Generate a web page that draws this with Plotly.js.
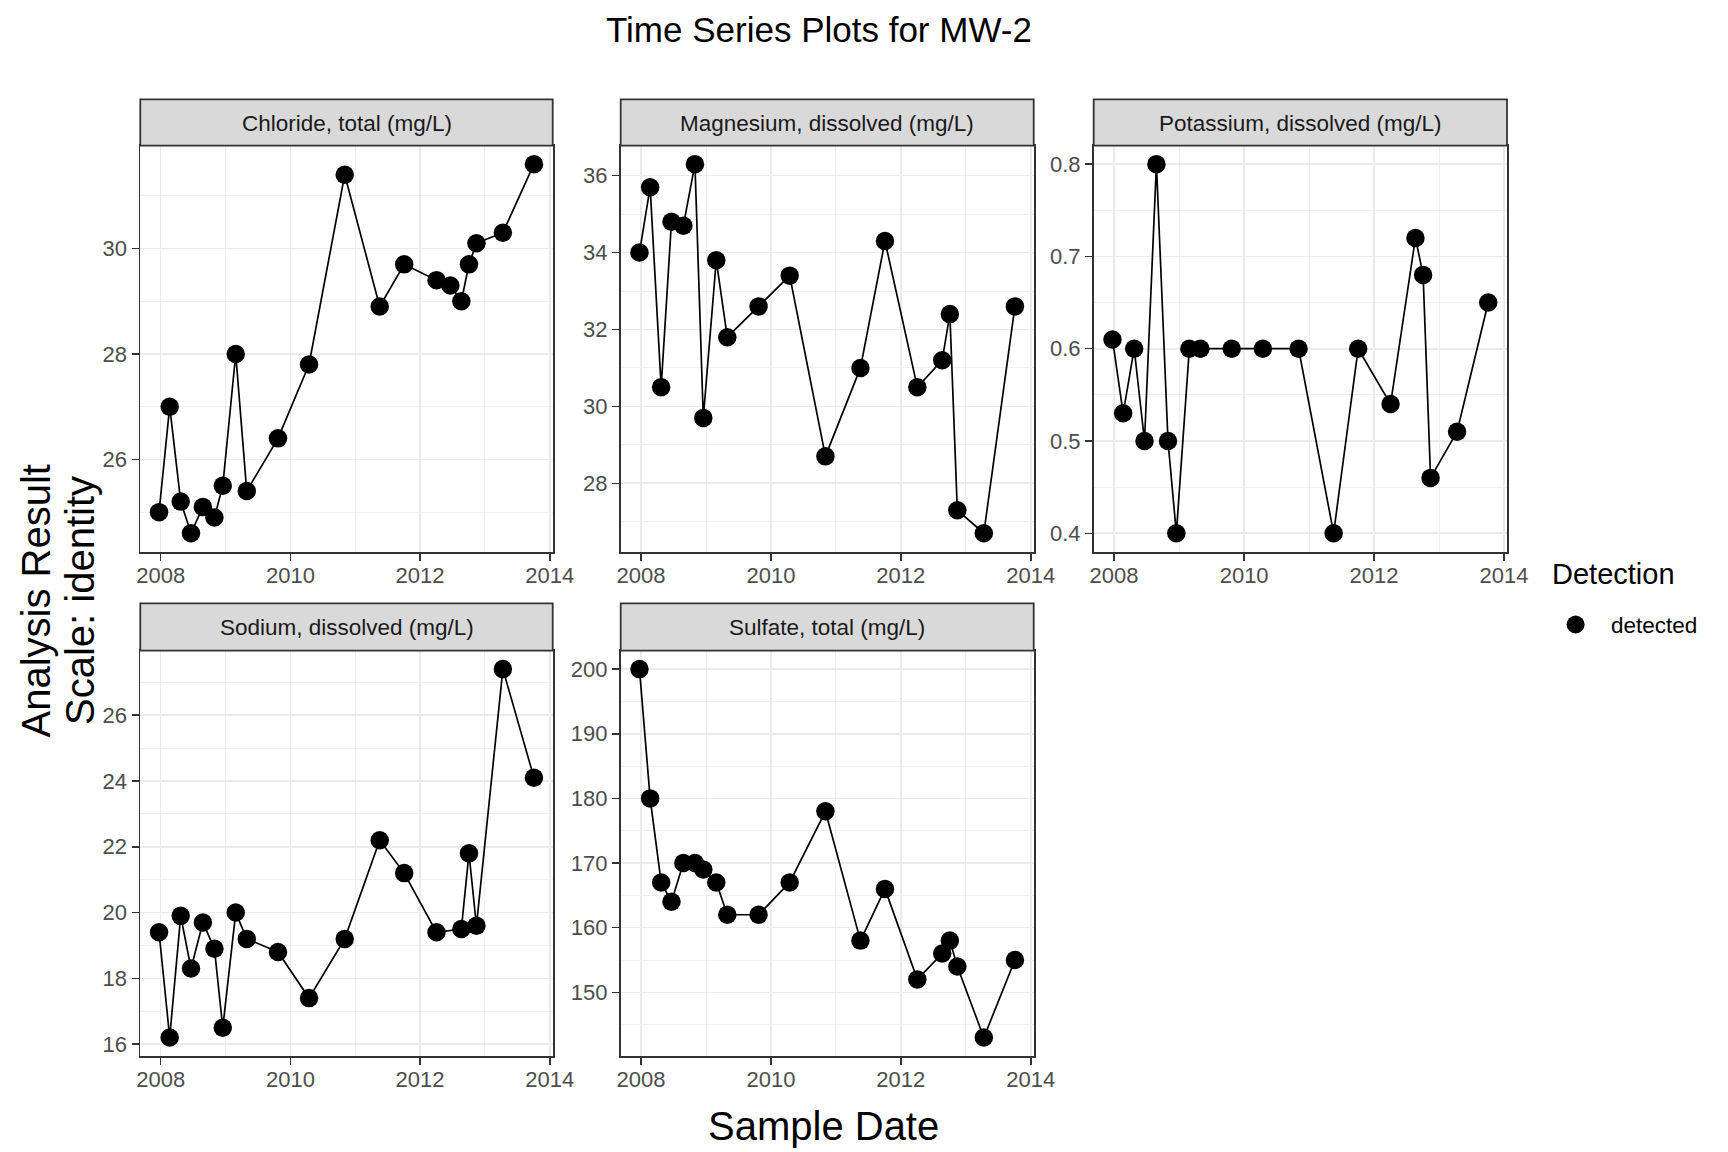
<!DOCTYPE html>
<html>
<head>
<meta charset="utf-8">
<script src="https://cdn.plot.ly/plotly-3.0.1.min.js"></script>
<style>html,body{margin:0;padding:0;background:#fff;}</style>
</head>
<body>
<div id="chart" style="width:1728px;height:1152px;"></div>
<script>
// ---------------- data ----------------
const sampleDates = ["2007-12-23","2008-02-21","2008-04-23","2008-06-20","2008-08-26","2008-10-30","2008-12-16",
  "2009-02-27","2009-04-30","2009-10-23","2010-04-16","2010-11-03","2011-05-19","2011-10-04",
  "2012-04-03","2012-06-20","2012-08-21","2012-10-03","2012-11-14","2013-04-12","2013-10-04"];
const chloride  = [25.0,27.0,25.2,24.6,25.1,24.9,25.5,28.0,25.4,26.4,27.8,31.4,28.9,29.7,29.4,29.3,29.0,29.7,30.1,30.3,31.6];
const magnesium = [34.0,35.7,30.5,34.8,34.7,36.3,29.7,33.8,31.8,32.6,33.4,28.7,31.0,34.3,30.5,null,31.2,32.4,27.3,26.7,32.6];
const potassium = [0.61,0.53,0.60,0.50,0.80,0.50,0.40,0.60,0.60,0.60,0.60,0.60,0.40,0.60,0.54,null,0.72,0.68,0.46,0.51,0.65];
const sodium    = [19.4,16.2,19.9,18.3,19.7,18.9,16.5,20.0,19.2,18.8,17.4,19.2,22.2,21.2,19.4,null,19.5,21.8,19.6,27.4,24.1];
const sulfate   = [200,180,167,164,170,170,169,167,162,162,167,178,158,166,152,null,156,158,154,143,155];
const panelTitles = ["Chloride, total (mg/L)","Magnesium, dissolved (mg/L)","Potassium, dissolved (mg/L)",
  "Sodium, dissolved (mg/L)","Sulfate, total (mg/L)"];
const yTickSteps = [2, 2, 0.1, 2, 10];
const chartTitle = "Time Series Plots for MW-2";
const xTitle = "Sample Date";
const yTitleLines = ["Analysis Result", "Scale: identity"];
const legendTitle = "Detection";
const legendLabel = "detected";

const series = [chloride, magnesium, potassium, sodium, sulfate];

// ---------------- layout geometry (pixels) ----------------
const W = 1728, H = 1152;
const cols = [[140.3, 552.7], [620.7, 1033.7], [1093.7, 1507.0]];
const rows = [{strip:[99.3,145.7], panel:[145.7,551.7]}, {strip:[603.3,650.7], panel:[650.7,1056.0]}];
const cells = [[0,0],[0,1],[0,2],[1,0],[1,1]]; // [row, col]
const fx = p => p / W;
const fy = p => 1 - p / H;
const FONT = "Liberation Sans, Arial, sans-serif";

// x range: ggplot-style 5% expansion
const ms = sampleDates.map(d => new Date(d + "T00:00:00Z").getTime());
const xmin = Math.min(...ms), xmax = Math.max(...ms);
const xpad = (xmax - xmin) * 0.05;
const iso = t => new Date(t).toISOString().slice(0,19).replace("T"," ");
const xRange = [iso(xmin - xpad), iso(xmax + xpad)];

const traces = [];
const layout = {
  width: W, height: H,
  margin: {l:0, r:0, t:0, b:0},
  paper_bgcolor: "#ffffff", plot_bgcolor: "#ffffff",
  showlegend: false,
  font: {family: FONT, color: "#000"},
  shapes: [], annotations: []
};

series.forEach((vals, i) => {
  const [r, c] = cells[i];
  const sfx = i === 0 ? "" : String(i + 1);
  traces.push({
    type: "scatter", mode: "lines+markers",
    x: sampleDates, y: vals, connectgaps: true,
    xaxis: "x" + sfx, yaxis: "y" + sfx,
    line: {color: "#000000", width: 1.7},
    marker: {color: "#000000", size: 18.5},
    name: legendLabel, showlegend: false
  });
  const good = vals.filter(v => v !== null);
  const vmin = Math.min(...good), vmax = Math.max(...good);
  const pad = (vmax - vmin) * 0.05;
  const step = yTickSteps[i];
  const axisCommon = {
    ticks: "outside", ticklen: 7, tickwidth: 1.5, tickcolor: "#333333",
    showline: true, mirror: true, linecolor: "#333333", linewidth: 1.8,
    showgrid: true, gridcolor: "#EBEBEB", gridwidth: 1.6,
    zeroline: false, fixedrange: true,
    tickfont: {family: FONT, size: 22, color: "#4D4D4D"}
  };
  layout["xaxis" + sfx] = Object.assign({}, axisCommon, {
    type: "date", range: xRange, tick0: "2008-01-01", dtick: "M24", tickformat: "%Y",
    ticklabelstandoff: -4,
    minor: {dtick: "M12", showgrid: true, gridcolor: "#EBEBEB", gridwidth: 0.8, ticks: ""},
    domain: [fx(cols[c][0]), fx(cols[c][1])],
    anchor: "y" + sfx
  });
  layout["yaxis" + sfx] = Object.assign({}, axisCommon, {
    range: [vmin - pad, vmax + pad], tick0: 0, dtick: step,
    minor: {dtick: step / 2, showgrid: true, gridcolor: "#EBEBEB", gridwidth: 0.8, ticks: ""},
    domain: [fy(rows[r].panel[1]), fy(rows[r].panel[0])],
    anchor: "x" + sfx
  });
  // strip
  layout.shapes.push({
    type: "rect", xref: "paper", yref: "paper",
    x0: fx(cols[c][0]), x1: fx(cols[c][1]),
    y0: fy(rows[r].strip[1]), y1: fy(rows[r].strip[0]),
    fillcolor: "#D9D9D9", line: {color: "#333333", width: 1.8}
  });
  layout.annotations.push({
    xref: "paper", yref: "paper", showarrow: false,
    x: fx((cols[c][0] + cols[c][1]) / 2), y: fy((rows[r].strip[0] + rows[r].strip[1]) / 2 + 0.8),
    xanchor: "center", yanchor: "middle",
    text: panelTitles[i], font: {family: FONT, size: 22.5, color: "#1A1A1A"}
  });
});

// titles
layout.annotations.push({
  xref: "paper", yref: "paper", showarrow: false, x: fx(819), y: fy(30),
  xanchor: "center", yanchor: "middle", text: chartTitle,
  font: {family: FONT, size: 35, color: "#000"}
});
layout.annotations.push({
  xref: "paper", yref: "paper", showarrow: false, x: fx(823.6), y: fy(1126),
  xanchor: "center", yanchor: "middle", text: xTitle,
  font: {family: FONT, size: 40, color: "#000"}
});
layout.annotations.push({
  xref: "paper", yref: "paper", showarrow: false, x: fx(35.5), y: fy(601),
  xanchor: "center", yanchor: "middle", textangle: -90, text: yTitleLines[0],
  font: {family: FONT, size: 40, color: "#000"}
});
layout.annotations.push({
  xref: "paper", yref: "paper", showarrow: false, x: fx(80), y: fy(601),
  xanchor: "center", yanchor: "middle", textangle: -90, text: yTitleLines[1],
  font: {family: FONT, size: 40, color: "#000"}
});
// legend (drawn manually to match ggplot's guide)
layout.annotations.push({
  xref: "paper", yref: "paper", showarrow: false, x: fx(1550), y: fy(574),
  xanchor: "left", yanchor: "middle", text: legendTitle,
  font: {family: FONT, size: 29, color: "#000"}
});
layout.annotations.push({
  xref: "paper", yref: "paper", showarrow: false, x: fx(1609), y: fy(625),
  xanchor: "left", yanchor: "middle", text: legendLabel,
  font: {family: FONT, size: 22.5, color: "#000"}
});
layout.shapes.push({
  type: "circle", xref: "paper", yref: "paper",
  x0: fx(1575.6 - 9), x1: fx(1575.6 + 9), y0: fy(624.5 + 9), y1: fy(624.5 - 9),
  fillcolor: "#000", line: {color: "#000", width: 0}
});

Plotly.newPlot("chart", traces, layout, {displayModeBar: false, staticPlot: true});
</script>
</body>
</html>
